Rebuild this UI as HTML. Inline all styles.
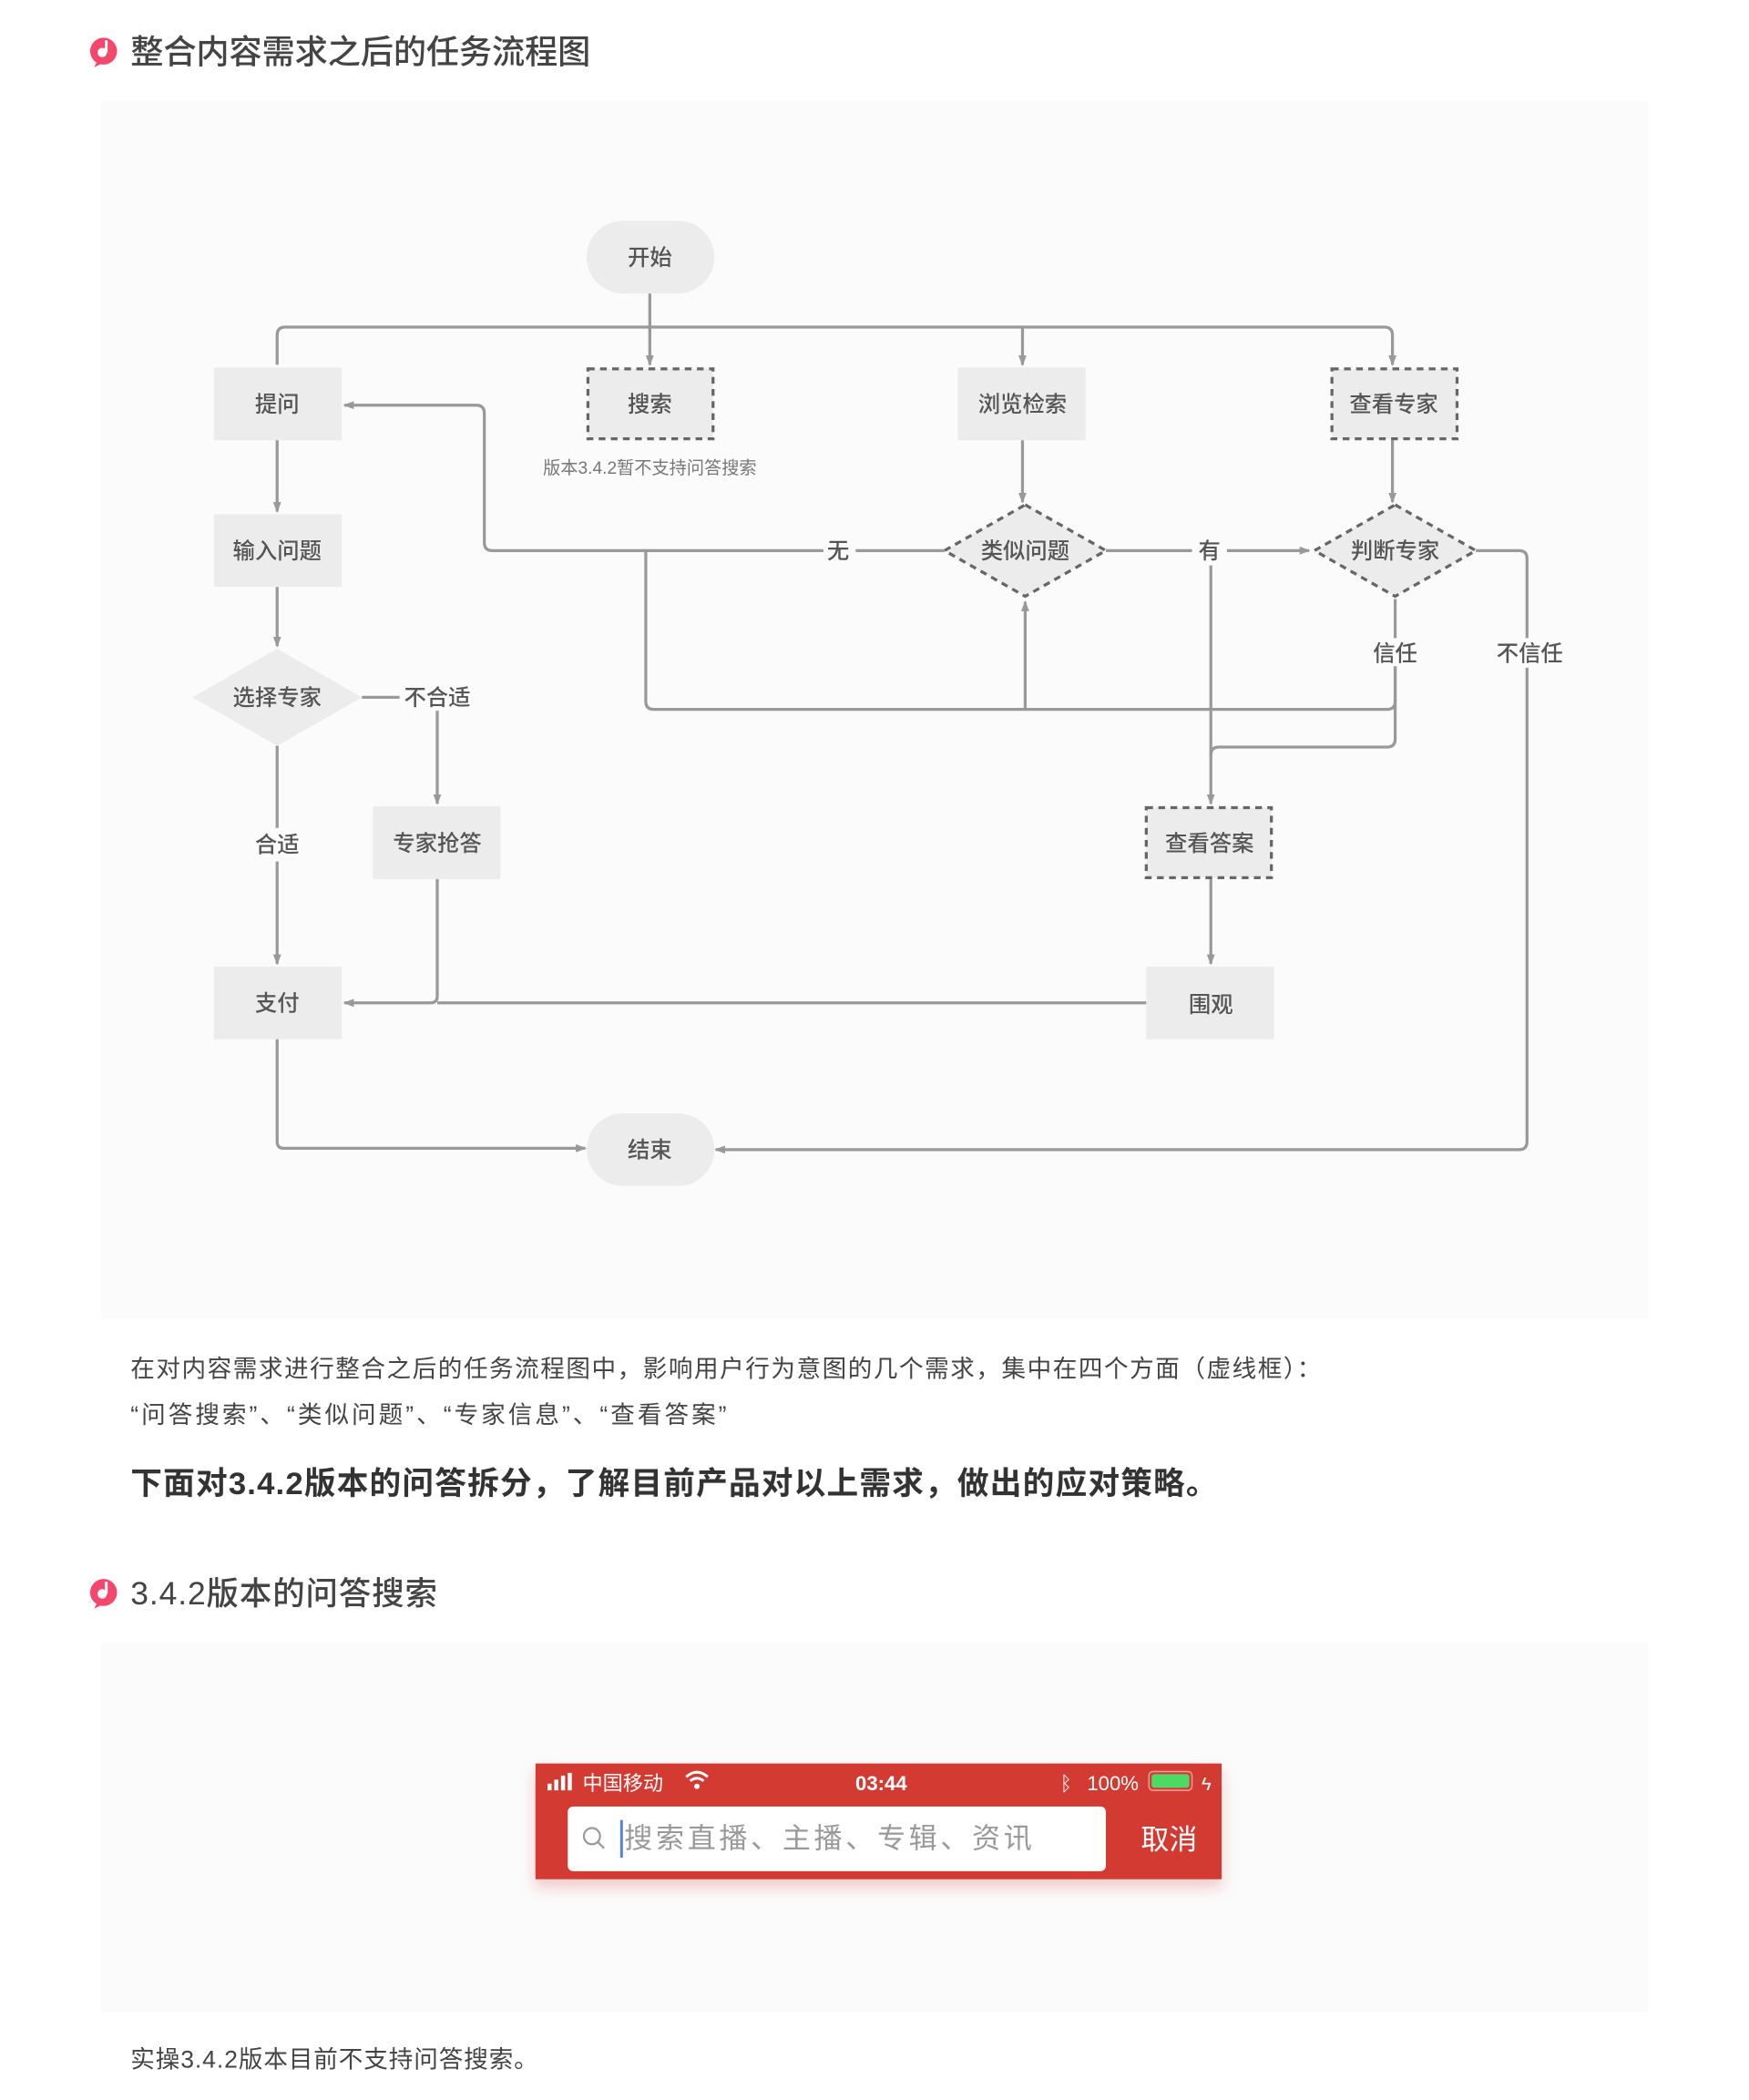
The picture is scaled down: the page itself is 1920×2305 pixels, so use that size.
<!DOCTYPE html>
<html><head><meta charset="utf-8"><style>
html,body{margin:0;padding:0;background:#fff;}
svg{display:block;}
text{font-family:"Liberation Sans","Noto Sans CJK SC",sans-serif;}
</style></head><body>
<svg width="1920" height="2305" viewBox="0 0 1300 1560" preserveAspectRatio="none" xmlns="http://www.w3.org/2000/svg">
<defs>
<marker id="a" markerWidth="8" markerHeight="8" refX="7" refY="4" orient="auto" markerUnits="userSpaceOnUse"><path d="M0,1 L8,4 L0,7 z" fill="#999"/></marker>
<filter id="sh" x="-10%" y="-20%" width="120%" height="160%"><feDropShadow dx="0" dy="6" stdDeviation="5" flood-color="#c33" flood-opacity="0.25"/></filter>
</defs>
<rect width="1300" height="1560" fill="#fff"/>
<circle cx="77" cy="38" r="10" fill="#f5476b"/><path d="M72,46 L70,50 L76,47 z" fill="#f5476b"/><circle cx="76" cy="39" r="3.5" fill="#fff"/><rect x="78" y="30" width="2" height="9" fill="#fff"/>
<text x="97" y="47" font-size="24.5" fill="#444" font-weight="500" textLength="342">整合内容需求之后的任务流程图</text>
<rect x="75" y="75" width="1150" height="905" fill="#fbfbfb"/>
<g fill="none" stroke="#999" stroke-width="2.2">
<path d="M483,218 V243"/>
<path d="M206,271 V249 Q206,243 212,243 H1029 Q1035,243 1035,249 V271" marker-end="url(#a)"/>
<path d="M483,243 V271" marker-end="url(#a)"/>
<path d="M760,243 V271" marker-end="url(#a)"/>
<path d="M206,327 V380" marker-end="url(#a)"/>
<path d="M206,436 V480" marker-end="url(#a)"/>
<path d="M269,518 H297"/>
<path d="M325,528 V597" marker-end="url(#a)"/>
<path d="M206,554 V615"/>
<path d="M206,640 V716" marker-end="url(#a)"/>
<path d="M325,653 V740 Q325,745 320,745 H256" marker-end="url(#a)"/>
<path d="M852,745 H325"/>
<path d="M206,772 V848 Q206,853 211,853 H435" marker-end="url(#a)"/>
<path d="M760,327 V373" marker-end="url(#a)"/>
<path d="M1035,327 V373" marker-end="url(#a)"/>
<path d="M702,409 H636"/>
<path d="M612,409 H366 Q360,409 360,403 V307 Q360,301 354,301 H256" marker-end="url(#a)"/>
<path d="M480,409 V521 Q480,527 486,527 H1031 Q1037,527 1037,521 V495"/>
<path d="M762,527 V447" marker-end="url(#a)"/>
<path d="M1037,474 V445"/>
<path d="M1037,495 V549 Q1037,555 1031,555 H906 Q900,555 900,561"/>
<path d="M900,420 V597" marker-end="url(#a)"/>
<path d="M822,409 H886"/>
<path d="M912,409 H973" marker-end="url(#a)"/>
<path d="M1097,409 H1129 Q1135,409 1135,415 V474"/>
<path d="M1135,496 V848 Q1135,854 1129,854 H532" marker-end="url(#a)"/>
<path d="M900,653 V716" marker-end="url(#a)"/>
</g>
<g fill="#ececec">
<rect x="436" y="164" width="95" height="54" rx="27"/>
<rect x="436" y="827" width="95" height="54" rx="27"/>
<rect x="159" y="273" width="95" height="54"/>
<rect x="712" y="273" width="95" height="54"/>
<rect x="159" y="382" width="95" height="54"/>
<rect x="277" y="599" width="95" height="54"/>
<rect x="159" y="718" width="95" height="54"/>
<rect x="852" y="718" width="95" height="54"/>
<path d="M206,482 L269,518 L206,554 L143,518 z"/>
</g>
<g fill="#ececec" stroke="#666" stroke-width="2.2" stroke-dasharray="5,4">
<rect x="437" y="274" width="93" height="52"/>
<rect x="990" y="274" width="93" height="52"/>
<rect x="852" y="600" width="93" height="52"/>
<path d="M762,375 L822,409 L762,443 L702,409 z"/>
<path d="M1037,375 L1097,409 L1037,443 L977,409 z"/>
</g>
<g font-size="16.5" fill="#555" text-anchor="middle" font-weight="500">
<text x="483" y="197">开始</text>
<text x="483" y="860">结束</text>
<text x="206" y="306">提问</text>
<text x="483" y="306">搜索</text>
<text x="760" y="306">浏览检索</text>
<text x="1036" y="306">查看专家</text>
<text x="206" y="415">输入问题</text>
<text x="762" y="415">类似问题</text>
<text x="1037" y="415">判断专家</text>
<text x="206" y="524">选择专家</text>
<text x="325" y="524">不合适</text>
<text x="206" y="633">合适</text>
<text x="325" y="632">专家抢答</text>
<text x="899" y="632">查看答案</text>
<text x="206" y="751">支付</text>
<text x="900" y="752">围观</text>
<text x="623" y="415">无</text>
<text x="899" y="415">有</text>
<text x="1037" y="491">信任</text>
<text x="1137" y="491">不信任</text>
</g>
<text x="483" y="352" font-size="13" fill="#777" text-anchor="middle">版本3.4.2暂不支持问答搜索</text>
<text x="97" y="1023" font-size="18" fill="#444" textLength="885">在对内容需求进行整合之后的任务流程图中，影响用户行为意图的几个需求，集中在四个方面（虚线框）：</text>
<text x="97" y="1057" font-size="18" fill="#444" textLength="443">“问答搜索”、“类似问题”、“专家信息”、“查看答案”</text>
<text x="97" y="1110" font-size="23.5" font-weight="bold" fill="#333" textLength="808">下面对3.4.2版本的问答拆分，了解目前产品对以上需求，做出的应对策略。</text>
<circle cx="77" cy="1183" r="10" fill="#f5476b"/><path d="M72,1191 L70,1195 L76,1192 z" fill="#f5476b"/><circle cx="76" cy="1184" r="3.5" fill="#fff"/><rect x="78" y="1175" width="2" height="9" fill="#fff"/>
<text x="97" y="1192" font-size="24" fill="#444" font-weight="500" textLength="228">3.4.2版本的问答搜索</text>
<rect x="75" y="1220" width="1150" height="275" fill="#fbfbfb"/>
<rect x="398" y="1310" width="510" height="86" fill="#d33a31" filter="url(#sh)"/>
<g fill="#fff"><rect x="407" y="1325" width="3" height="5"/><rect x="412" y="1322" width="3" height="8"/><rect x="417" y="1319" width="3" height="11"/><rect x="422" y="1317" width="3" height="13"/></g>
<text x="433" y="1330" font-size="15" fill="#fff">中国移动</text>
<path d="M510,1320 Q518,1313 526,1320 M513,1323 Q518,1319 523,1323" stroke="#fff" stroke-width="2" fill="none"/><circle cx="518" cy="1327" r="2" fill="#fff"/>
<text x="655" y="1330" font-size="15" fill="#fff" text-anchor="middle" font-weight="bold">03:44</text>
<text x="788" y="1330" font-size="15" fill="#fff">ᛒ</text>
<text x="808" y="1330" font-size="15" fill="#fff">100%</text>
<rect x="854" y="1316" width="32" height="14" rx="3" fill="none" stroke="#f0a0a0" stroke-width="1"/><rect x="856" y="1318" width="28" height="10" rx="2" fill="#4cd964"/>
<text x="893" y="1330" font-size="14" fill="#fff">ϟ</text>
<rect x="422" y="1342" width="400" height="48" rx="4" fill="#fff"/>
<circle cx="440" cy="1364" r="6" fill="none" stroke="#999" stroke-width="1.5"/><path d="M444,1368 L449,1373" stroke="#999" stroke-width="1.5"/>
<rect x="461" y="1352" width="2" height="28" fill="#5b7fe0"/>
<text x="464" y="1373" font-size="21" fill="#999" textLength="303">搜索直播、主播、专辑、资讯</text>
<text x="869" y="1374" font-size="21" fill="#fff" text-anchor="middle">取消</text>
<text x="97" y="1536" font-size="18" fill="#444" textLength="303">实操3.4.2版本目前不支持问答搜索。</text>
</svg>
</body></html>
